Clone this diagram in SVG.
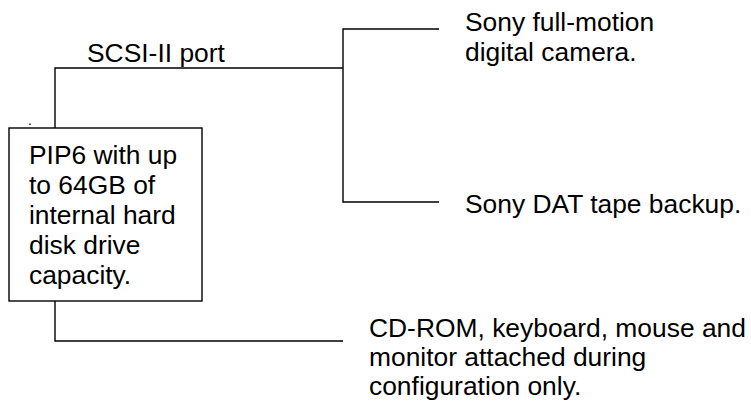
<svg xmlns="http://www.w3.org/2000/svg" width="751" height="401" viewBox="0 0 751 401">
<style>
text{font-family:"Liberation Sans",Arial,sans-serif;font-size:26.4px;fill:#000}
.ln{fill:none;stroke:#000;stroke-width:1.4}
</style>
<rect width="751" height="401" fill="#fff"/>
<g id="connectors">
<path class="ln" d="M55,128 V68 H343"/>
<path class="ln" d="M439,29 H343 V202 H439"/>
<path class="ln" d="M55,301 V341 H343"/>
</g>
<g id="label-scsi"><text x="87" y="62">SCSI-II port</text></g>
<g id="pip6">
<rect class="ln" x="9" y="128" width="193" height="173"/>
<text x="29" y="164">PIP6 with up</text>
<text x="29" y="194">to 64GB of</text>
<text x="29" y="224">internal hard</text>
<text x="29" y="254">disk drive</text>
<text x="29" y="284">capacity.</text>
</g>
<g id="dot"><text x="28" y="125" style="font-size:14px">.</text></g>
<g id="camera">
<text x="465" y="31">Sony full-motion</text>
<text x="465" y="61">digital camera.</text>
</g>
<g id="dat"><text x="465" y="213">Sony DAT tape backup.</text></g>
<g id="config">
<text x="369" y="337">CD-ROM, keyboard, mouse and</text>
<text x="369" y="366">monitor attached during</text>
<text x="369" y="395">configuration only.</text>
</g>
</svg>
